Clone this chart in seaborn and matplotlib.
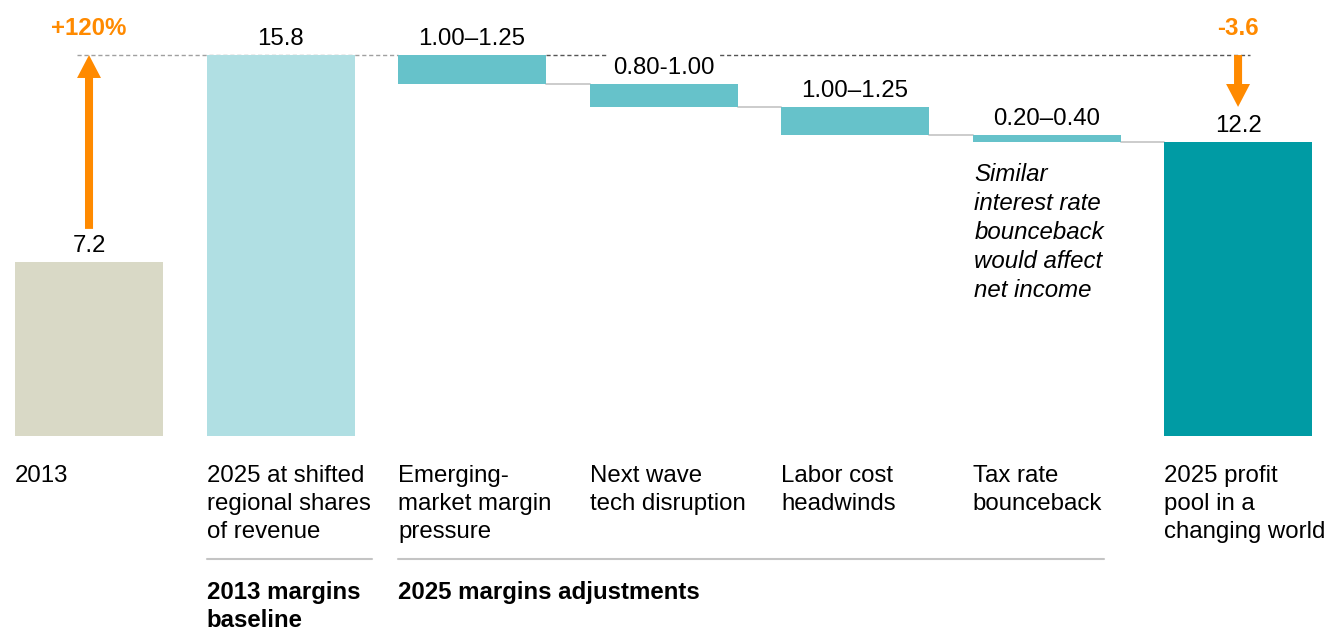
import numpy as np
import pandas as pd
import seaborn as sns
import matplotlib.pyplot as plt

# categories (x tick labels), left to right
categories = ["2013", "2025 at shifted\nregional shares\nof revenue",
              "Emerging-\nmarket margin\npressure", "Next wave\ntech disruption",
              "Labor cost\nheadwinds", "Tax rate\nbounceback",
              "2025 profit\npool in a\nchanging world"]
start_2013 = 7.2
shifted_2025 = 15.8
adjustments = [1.2, 0.95, 1.15, 0.3]
end_2025 = 12.2
range_labels = ["1.00–1.25", "0.80-1.00", "1.00–1.25", "0.20–0.40"]
groups = ["2013 margins\nbaseline", "2025 margins adjustments"]
change_labels = ["+120%", "-3.6"]
note = "Similar\ninterest rate\nbounceback\nwould affect\nnet income"

colors = ["#d9d9c6", "#b0dfe3"] + ["#66c2ca"] * 4 + ["#009ba4"]
orange = "#ff8a00"

# waterfall geometry
levels = shifted_2025 - np.cumsum(adjustments)
bottoms = [0, 0] + list(levels) + [0]
heights = [start_2013, shifted_2025] + adjustments + [end_2025]
tops = [b + h for b, h in zip(bottoms, heights)]
value_labels = ["7.2", "15.8"] + range_labels + ["12.2"]

df = pd.DataFrame({"pos": range(len(categories)), "height": heights})

sns.set_theme(style="white")
plt.rcParams["font.family"] = ["Liberation Sans", "DejaVu Sans"]
plt.rcParams["text.color"] = "black"
fs = 17.3
ls = 1.34

fig = plt.figure(figsize=(13.25, 6.27), dpi=100)
ax = fig.add_axes([0, 0, 1, 1])
w = 0.773
sns.barplot(x="pos", y="height", data=df, bottom=np.array(bottoms), width=w,
            color=colors[0], errorbar=None, linewidth=0, ax=ax, zorder=2)
for p, c in zip(ax.patches, colors):
    p.set_facecolor(c)

ax.set_xlim(-0.4648, 6.454)
ax.set_ylim(-7.922, 18.084)
ax.axis("off")

# reference dashed line at the 2025 shifted level
hw = 0.125
ax.plot([-hw / 2, 2 - w / 2], [shifted_2025] * 2, color="#a0a0a0", lw=1,
        ls=(0, (3, 2)), zorder=1)
ax.plot([2 + w / 2, 6 + hw / 2], [shifted_2025] * 2, color="#555555", lw=1,
        ls=(0, (3, 2)), zorder=1)

# connectors between floating bars
for i in range(2, 6):
    ax.plot([i + w / 2, i + 1 - w / 2], [bottoms[i]] * 2, color="#c8c8c8",
            lw=1.3, zorder=1)

# value labels
for i, lab in enumerate(value_labels):
    ax.annotate(lab, (i, tops[i]), xytext=(0, 7.2), textcoords="offset points",
                ha="center", va="baseline", fontsize=fs, zorder=4,
                bbox=dict(boxstyle="square,pad=0.15", fc="white", ec="none"))

# orange arrows
ax.arrow(0, start_2013 + 1.39, 0, shifted_2025 - start_2013 - 1.39, width=0.042,
         head_width=hw, head_length=0.95, length_includes_head=True,
         color=orange, lw=0, zorder=3)
ax.arrow(6, shifted_2025, 0, -(shifted_2025 - end_2025 - 1.45), width=0.042,
         head_width=hw, head_length=0.95, length_includes_head=True,
         color=orange, lw=0, zorder=3)
for x, lab in zip([0, 6], change_labels):
    ax.annotate(lab, (x, shifted_2025), xytext=(0, 14.4), textcoords="offset points",
                ha="center", va="baseline", fontsize=fs, fontweight="bold",
                color=orange)

# category labels under the bars
for i, lab in enumerate(categories):
    ax.annotate(lab, (i - w / 2, 0), xytext=(0, -21.2), textcoords="offset points",
                ha="left", va="top", fontsize=fs, linespacing=ls)

# group separators and titles
gy = -123 / 24.11
ax.plot([1 - w / 2, 1 + w / 2 + 0.09], [gy, gy], color="#c4c4c4", lw=1.5)
ax.plot([2 - w / 2, 5 + w / 2 - 0.085], [gy, gy], color="#c4c4c4", lw=1.5)
for x, lab in zip([1, 2], groups):
    ax.annotate(lab, (x - w / 2, 0), xytext=(0, -104.2), textcoords="offset points",
                ha="left", va="top", fontsize=fs, fontweight="bold",
                linespacing=1.3)

# italic note under the tax bar
ax.annotate(note, (5 - w / 2 + 0.01, end_2025), xytext=(0, -15.5),
            textcoords="offset points", ha="left", va="top", fontsize=fs,
            style="italic", linespacing=1.33)

fig.savefig("out.png", dpi=100)
